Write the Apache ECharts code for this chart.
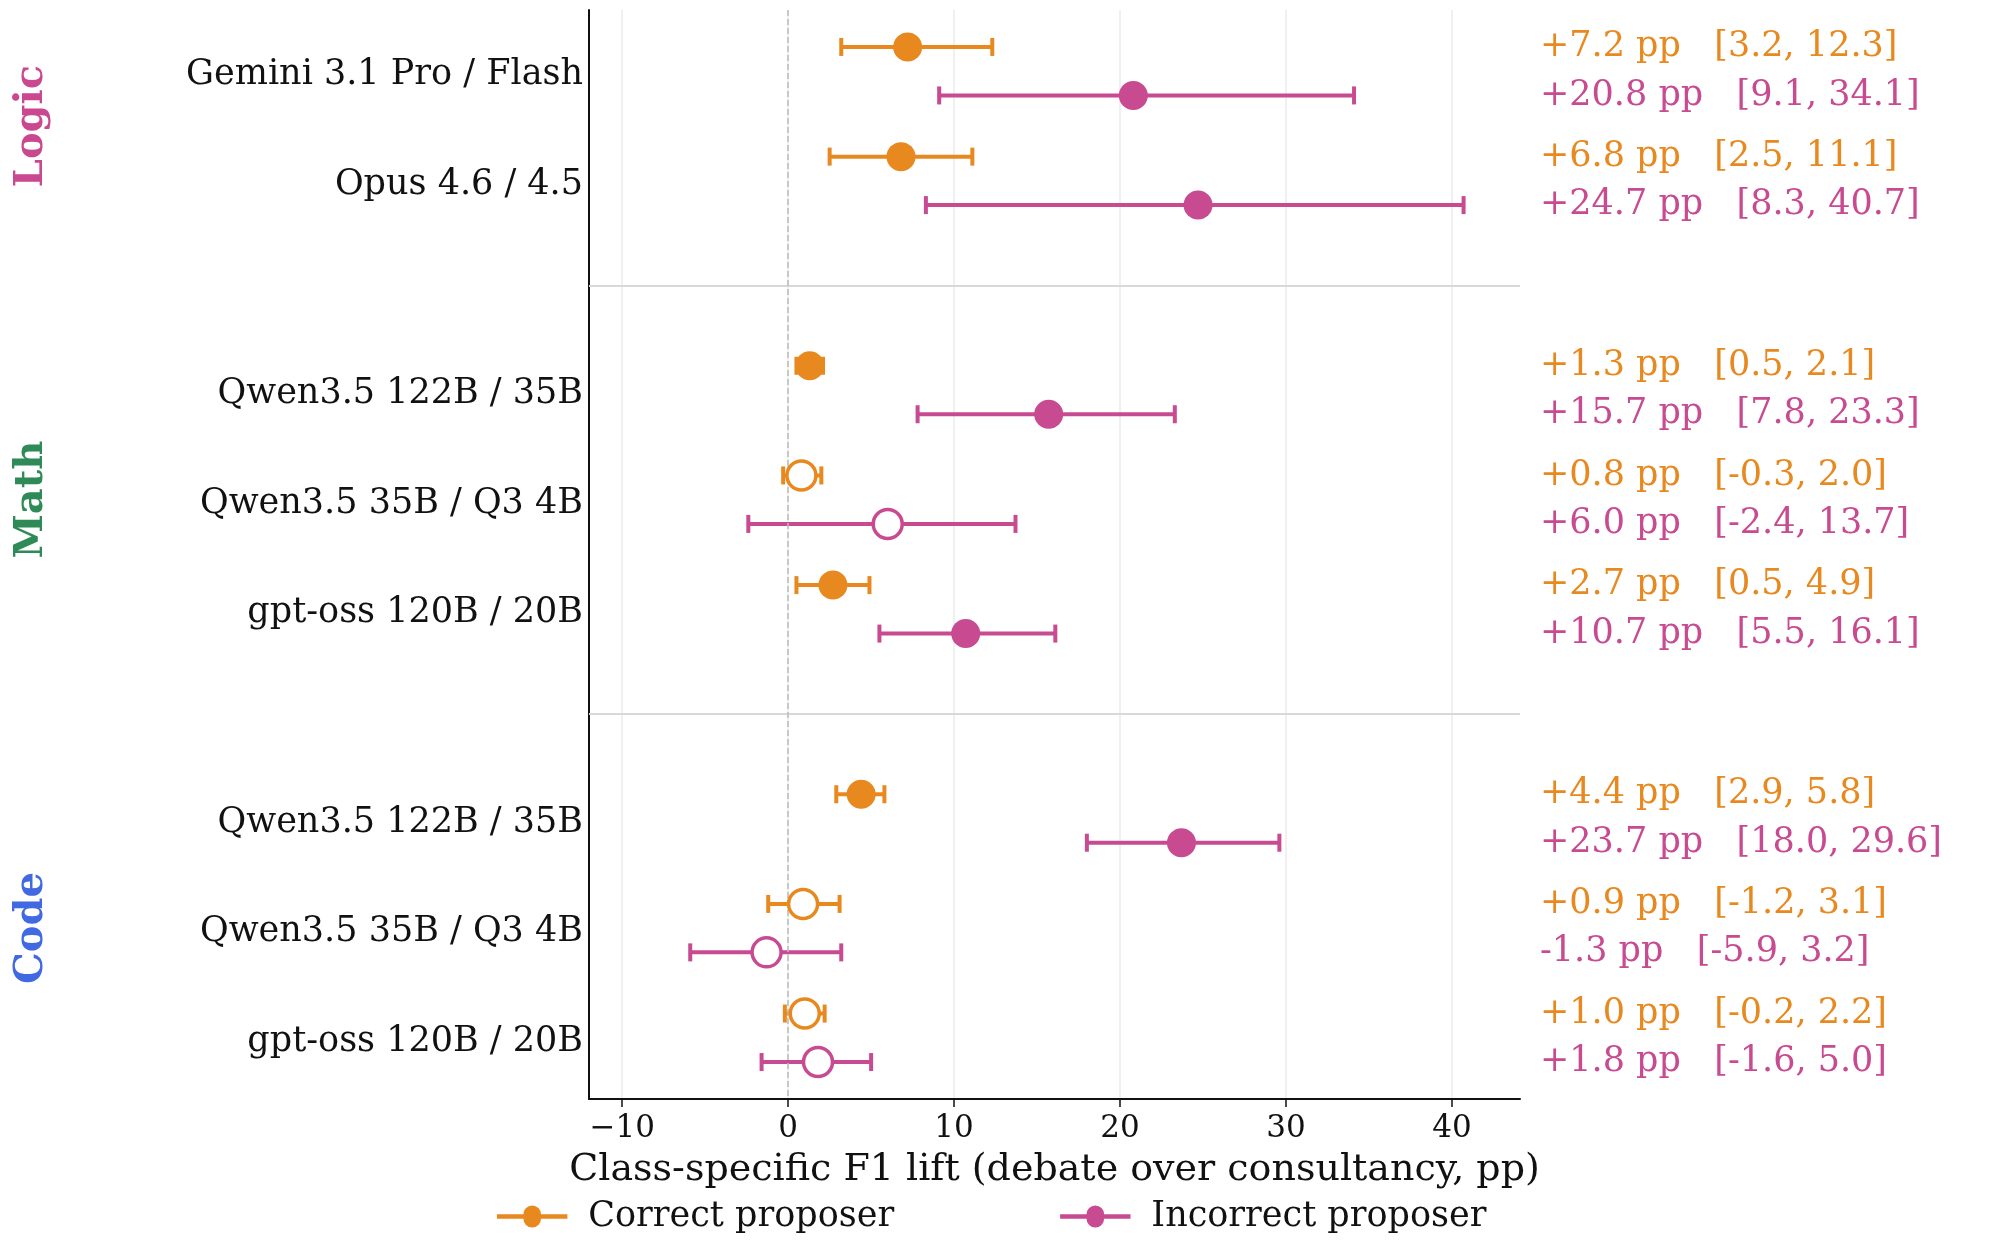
<!DOCTYPE html>
<html><head><meta charset="utf-8">
<script src="https://cdn.jsdelivr.net/npm/echarts@6/dist/echarts.min.js"></script>
<style>html,body{margin:0;background:#fff}#chart{width:1999px;height:1259px}</style>
</head><body><div id="chart"></div>
<script>
const groups = ["Logic", "Math", "Code"];
const groupColors = ["#c9488f", "#2e8b57", "#4169e1"];
const models = [
  ["Gemini 3.1 Pro / Flash", "Opus 4.6 / 4.5"],
  ["Qwen3.5 122B / 35B", "Qwen3.5 35B / Q3 4B", "gpt-oss 120B / 20B"],
  ["Qwen3.5 122B / 35B", "Qwen3.5 35B / Q3 4B", "gpt-oss 120B / 20B"]
];
// [estimate, lo, hi]
const correct = [[7.2,3.2,12.3],[6.8,2.5,11.1],[1.3,0.5,2.1],[0.8,-0.3,2.0],[2.7,0.5,4.9],[4.4,2.9,5.8],[0.9,-1.2,3.1],[1.0,-0.2,2.2]];
const incorrect = [[20.8,9.1,34.1],[24.7,8.3,40.7],[15.7,7.8,23.3],[6.0,-2.4,13.7],[10.7,5.5,16.1],[23.7,18.0,29.6],[-1.3,-5.9,3.2],[1.8,-1.6,5.0]];
const hollow = [false,false,false,true,false,false,true,true];

const C_OR = "#e8891f", C_PK = "#c84a91";
const FONT = "DejaVu Serif";
// layout in row units
const rows = []; let gi = 0;
models.forEach((ms, g) => ms.forEach((m, k) => {
  rows.push({g, name: m, y: 0.558 + gi + g * 0.907}); gi++;
}));
const OFF = 0.221;
const seps = [rows[1].y + 0.953, rows[4].y + 0.953];
const YMAX = 9.93;

function fmt(v){ return (v >= 0 ? "+" : "") + v.toFixed(1) + " pp"; }
function ci(a){ return "[" + a[1].toFixed(1) + ", " + a[2].toFixed(1) + "]"; }

const barData = [];
rows.forEach((r, i) => {
  barData.push([correct[i][1], correct[i][2], r.y - OFF, 0, i]);
  barData.push([incorrect[i][1], incorrect[i][2], r.y + OFF, 1, i]);
});

function errBar(params, api){
  const p1 = api.coord([api.value(0), api.value(2)]);
  const p2 = api.coord([api.value(1), api.value(2)]);
  const col = api.value(3) ? C_PK : C_OR;
  const h = 9, st = {stroke: col, lineWidth: 4};
  return {type: "group", children: [
    {type: "line", shape: {x1: p1[0], y1: p1[1], x2: p2[0], y2: p2[1]}, style: st},
    {type: "line", shape: {x1: p1[0], y1: p1[1]-h, x2: p1[0], y2: p1[1]+h}, style: st},
    {type: "line", shape: {x1: p2[0], y1: p2[1]-h, x2: p2[0], y2: p2[1]+h}, style: st}
  ]};
}

function pts(arr, col, off){
  return arr.map((a, i) => ({value: [a[0], rows[i].y + off],
    itemStyle: hollow[i] ? {color: "#fff", borderColor: col, borderWidth: 3.5, opacity: 1} : {color: col, opacity: 1}}));
}

const labelData = rows.map((r, i) => [0, r.y, i]);
function labels(params, api){
  const i = api.value(2);
  const p = api.coord([-12, api.value(1)]);
  const pc = api.coord([44.1, api.value(1) - OFF]);
  const pp = api.coord([44.1, api.value(1) + OFF]);
  const ch = [
    {type: "text", x: p[0] - 6, y: p[1] + 4, style: {text: rows[i].name, font: "35px " + FONT, fill: "#111", align: "right", verticalAlign: "middle"}},
    {type: "text", x: pc[0] + 20, y: pc[1], style: {text: fmt(correct[i][0]) + "   " + ci(correct[i]), font: "35px " + FONT, fill: C_OR, verticalAlign: "middle"}},
    {type: "text", x: pp[0] + 20, y: pp[1], style: {text: fmt(incorrect[i][0]) + "   " + ci(incorrect[i]), font: "35px " + FONT, fill: C_PK, verticalAlign: "middle"}}
  ];
  return {type: "group", children: ch};
}

// group label centres
const groupY = groups.map((g, gIdx) => {
  const rs = rows.filter(r => r.g === gIdx);
  return (rs[0].y + rs[rs.length-1].y) / 2;
});
function groupLbl(params, api){
  const gIdx = api.value(1);
  const p = api.coord([-12, api.value(0)]);
  return {type: "text", x: 32, y: p[1], rotation: Math.PI/2,
    style: {text: groups[gIdx], font: "bold 40px " + FONT, fill: groupColors[gIdx], align: "center", verticalAlign: "middle"}};
}

const legIcon = "path://M0,9H24A8,8 0 0 1 40,9H64V13H40A8,8 0 0 1 24,13H0Z";

const chart = echarts.init(document.getElementById("chart"));
chart.setOption({
  animation: false,
  textStyle: {fontFamily: FONT},
  grid: {left: 589, right: 479, top: 10, bottom: 160},
  xAxis: {type: "value", min: -12, max: 44.1, interval: 10,
    axisLabel: {fontSize: 31, color: "#111", margin: 14, customValues: [-10,0,10,20,30,40],
      formatter: v => v < 0 ? "\u2212" + Math.abs(v) : String(v)},
    axisTick: {show: true, length: 8, lineStyle: {color: "#111", width: 1.5}, customValues: [-10,0,10,20,30,40]},
    axisLine: {onZero: false, lineStyle: {color: "#111", width: 2}},
    splitLine: {show: true, lineStyle: {color: "#ebebeb", width: 1.5}},
    name: "Class-specific F1 lift (debate over consultancy, pp)", nameLocation: "middle", nameGap: 52,
    nameTextStyle: {fontSize: 38, color: "#111", fontFamily: FONT}},
  yAxis: {type: "value", min: 0, max: YMAX, inverse: true, show: true,
    axisLine: {show: true, onZero: false, lineStyle: {color: "#111", width: 2}}, axisTick: {show: false},
    axisLabel: {show: false}, splitLine: {show: false}},
  legend: {bottom: 20, left: 492, itemGap: 166, itemWidth: 74, itemHeight: 22,
    textStyle: {fontSize: 35, color: "#111", fontFamily: FONT, padding: [0,0,0,14]},
    data: [{name: "Correct proposer", icon: legIcon}, {name: "Incorrect proposer", icon: legIcon}]},
  series: [
    {type: "line", silent: true, data: [], markLine: {symbol: "none", silent: true,
      lineStyle: {color: "#d8d8d8", width: 2, type: "solid"}, label: {show: false},
      data: [{yAxis: seps[0]}, {yAxis: seps[1]}]}},
    {type: "line", silent: true, data: [], markLine: {symbol: "none", silent: true,
      lineStyle: {color: "#bbb", width: 1.5, type: "dashed"}, label: {show: false},
      data: [{xAxis: 0}]}},
    {type: "custom", renderItem: errBar, data: barData, z: 3},
    {name: "Correct proposer", type: "scatter", symbolSize: 29, data: pts(correct, C_OR, -OFF), z: 5, itemStyle: {color: C_OR, opacity: 1}},
    {name: "Incorrect proposer", type: "scatter", symbolSize: 29, data: pts(incorrect, C_PK, OFF), z: 5, itemStyle: {color: C_PK, opacity: 1}},
    {type: "custom", renderItem: labels, data: labelData, clip: false},
    {type: "custom", renderItem: groupLbl, data: groupY.map((y, i) => [y, i]), clip: false}
  ]
});
</script></body></html>
